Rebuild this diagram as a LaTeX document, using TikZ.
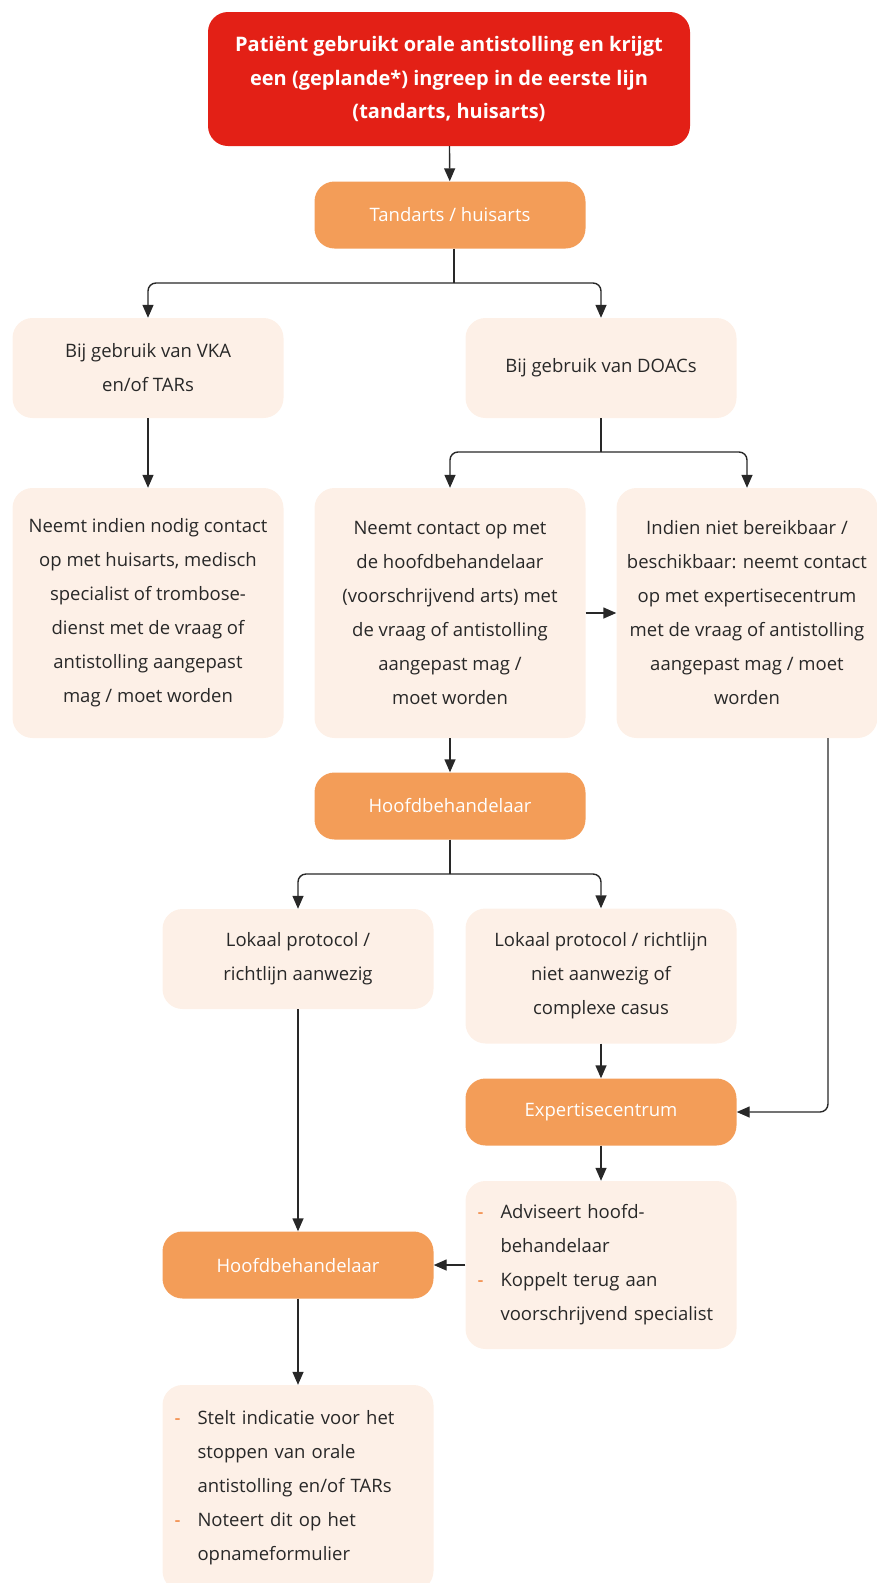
\documentclass[tikz,border=0pt]{standalone}
\usepackage{fontspec}
\setmainfont{Open Sans}
\usepackage{xcolor}
\usepackage{tikz}
\usetikzlibrary{arrows.meta}
\definecolor{alarmred}{RGB}{227,32,22}
\definecolor{boxorange}{RGB}{243,157,88}
\definecolor{lightpeach}{RGB}{253,240,231}
\definecolor{inkgrey}{RGB}{40,40,40}
\definecolor{dashorange}{RGB}{240,120,40}

\newcommand{\bul}{\makebox[23pt][l]{\textcolor{dashorange}{-}}}
\newcommand{\ind}{\hspace*{23pt}}

\begin{document}
\begin{tikzpicture}[
    x=1pt, y=-1pt,
    % Node styles
    alarm/.style={rectangle, rounded corners=20pt, fill=alarmred, text=white, minimum width=482pt, minimum height=134pt, inner ysep=0pt, align=center, font=\fontsize{20}{33.5}\selectfont\bfseries},
    actor/.style={rectangle, rounded corners=20pt, fill=boxorange, text=white, minimum width=271pt, minimum height=67pt, inner ysep=0pt, font=\fontsize{18.5}{34}\selectfont},
    info/.style={rectangle, rounded corners=20pt, fill=lightpeach, text=inkgrey, minimum width=271pt, inner ysep=0pt, align=center, font=\fontsize{18.5}{34}\selectfont},
    list/.style={info, align=left, text width=247pt, inner xsep=12pt},
    % Edge styles
    line/.style={draw=inkgrey, line width=1.4pt},
    link/.style={line, rounded corners=8pt, -{Triangle[length=13pt, width=11pt]}}
]
\useasboundingbox (0,0) rectangle (876,1583);

% Level 0 - Start
\node[alarm] (start) at (449,79) {Patiënt gebruikt orale antistolling en krijgt\\een (geplande*) ingreep in de eerste lijn\\(tandarts, huisarts)};

% Level 1
\node[actor] (tand) at (450,215) {Tandarts / huisarts};

% Level 2
\node[info, minimum height=100pt] (vka) at (148,368) {Bij gebruik van VKA\\en/of TARs};
\node[info, minimum height=100pt] (doac) at (601,368) {Bij gebruik van DOACs};

% Level 3
\node[info, minimum height=250pt] (nodig) at (148,613) {Neemt indien nodig contact\\op met huisarts, medisch\\specialist of trombose-\\dienst met de vraag of\\antistolling aangepast\\mag / moet worden};
\node[info, minimum height=250pt] (contact) at (450,613) {Neemt contact op met\\de hoofdbehandelaar\\(voorschrijvend arts) met\\de vraag of antistolling\\aangepast mag /\\moet worden};
\node[info, minimum height=250pt, minimum width=261pt] (indien) at (747,613) {Indien niet bereikbaar /\\beschikbaar: neemt contact\\op met expertisecentrum\\met de vraag of antistolling\\aangepast mag / moet\\worden};

% Level 4
\node[actor] (hoofd1) at (450,806) {Hoofdbehandelaar};

% Level 5
\node[info, minimum height=100pt] (lokaal) at (298,959) {Lokaal protocol /\\richtlijn aanwezig};
\node[info, minimum height=135pt] (complex) at (601,976) {Lokaal protocol / richtlijn\\niet aanwezig of\\complexe casus};

% Level 6
\node[actor] (expert) at (601,1112) {Expertisecentrum};
\node[list, minimum height=168pt] (advies) at (601,1265) {\bul Adviseert hoofd-\\\ind behandelaar\\\bul Koppelt terug aan\\\ind voorschrijvend specialist};
\node[actor] (hoofd2) at (298,1265) {Hoofdbehandelaar};

% Level 7
\node[list, minimum height=206pt] (stelt) at (298,1488) {\bul Stelt indicatie voor het\\\ind stoppen van orale\\\ind antistolling en/of TARs\\\bul Noteert dit op het\\\ind opnameformulier};

% Draw all edges
\coordinate (fork1) at (454,283);
\coordinate (fork2) at (601,452);
\coordinate (fork3) at (450,874);

\draw[link] (start) -- (tand);

\draw[line] (tand.south -| fork1) -- (fork1);
\draw[link] (fork1) -| (vka.north);
\draw[link] (fork1) -| (doac.north);

\draw[link] (vka) -- (nodig);

\draw[line] (doac.south) -- (fork2);
\draw[link] (fork2) -| (contact.north);
\draw[link] (fork2) -| (indien.north);

\draw[link] (contact) -- (indien);
\draw[link] (contact) -- (hoofd1);

\draw[line] (hoofd1.south) -- (fork3);
\draw[link] (fork3) -| (lokaal.north);
\draw[link] (fork3) -| (complex.north);

\draw[link] (lokaal) -- (hoofd2);
\draw[link] (complex) -- (expert);
\draw[link] ([xshift=81pt]indien.south) |- (expert.east);

\draw[link] (expert) -- (advies);
\draw[link] (advies) -- (hoofd2);

\draw[link] (hoofd2) -- (stelt);

\end{tikzpicture}
\end{document}
